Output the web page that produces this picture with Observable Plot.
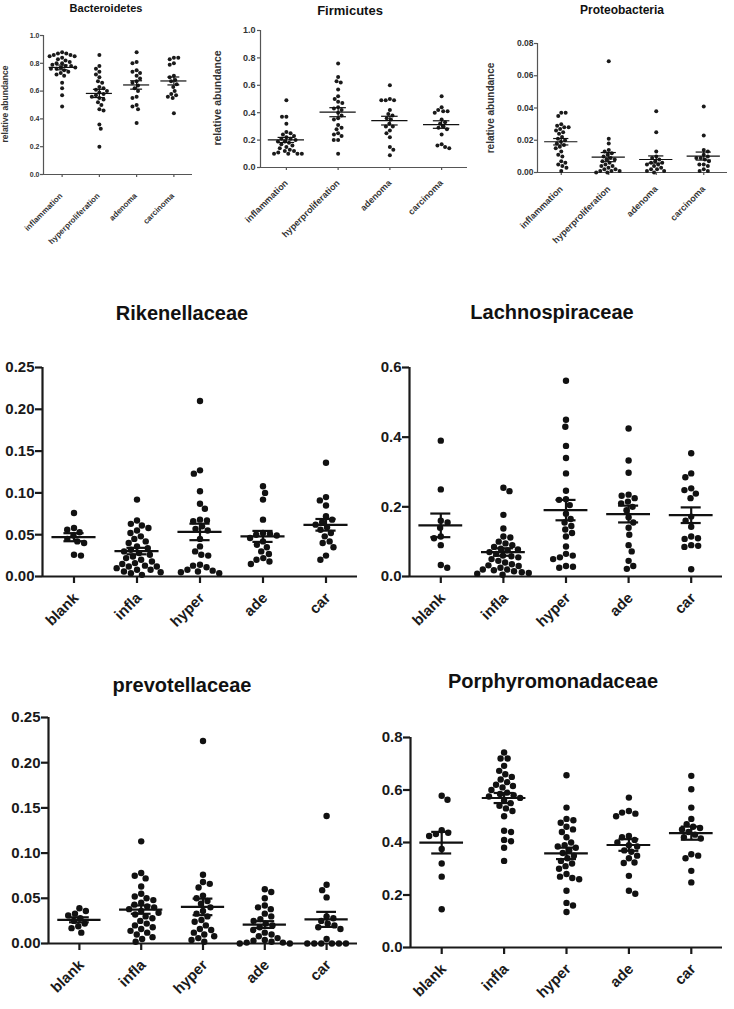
<!DOCTYPE html>
<html><head><meta charset="utf-8">
<script src="https://cdn.jsdelivr.net/npm/d3@7"></script>
<script src="https://cdn.jsdelivr.net/npm/@observablehq/plot@0.6"></script>
<style>
body{margin:0;background:#fff;}
#page{position:relative;width:734px;height:1009px;overflow:hidden;background:#fff;font-family:"Liberation Sans",Arial,sans-serif;}
.title{position:absolute;font-weight:bold;white-space:nowrap;transform:translateX(-50%);color:#111;}
.ylab{position:absolute;font-weight:bold;white-space:nowrap;transform:translate(-50%,-50%) rotate(-90deg);color:#333;}
.panel{position:absolute;}
.panel svg{overflow:visible;background:transparent;}
</style></head><body><div id="page"></div><script>
// ---------- data ----------
const topGroups = ["inflammation","hyperproliferation","adenoma","carcinoma"];
const bottomGroups = ["blank","infla","hyper","ade","car"];

const ticksUnit = [0,0.2,0.4,0.6,0.8,1.0];
const ticksProteo = [0,0.02,0.04,0.06,0.08];
const ticksSmall = [0,0.05,0.10,0.15,0.20,0.25];
const ticksLachno = [0,0.2,0.4,0.6];
const ticksPorph = [0,0.2,0.4,0.6,0.8];

const bacteroidetes = [
 [0.88,0.87,0.87,0.86,0.86,0.85,0.85,0.84,0.83,0.82,0.81,0.80,0.80,0.79,0.78,0.78,0.77,0.77,0.76,0.76,0.75,0.74,0.73,0.72,0.71,0.66,0.62,0.57,0.49],
 [0.86,0.78,0.76,0.74,0.72,0.70,0.67,0.66,0.63,0.62,0.61,0.60,0.59,0.58,0.57,0.56,0.55,0.54,0.52,0.50,0.47,0.46,0.36,0.33,0.20],
 [0.88,0.81,0.80,0.75,0.74,0.73,0.71,0.69,0.67,0.66,0.64,0.62,0.60,0.56,0.55,0.50,0.49,0.47,0.37],
 [0.84,0.84,0.83,0.80,0.79,0.71,0.70,0.68,0.67,0.65,0.63,0.60,0.58,0.57,0.56,0.55,0.44]
];
const firmicutes = [
 [0.49,0.37,0.37,0.32,0.26,0.25,0.24,0.23,0.22,0.21,0.21,0.20,0.19,0.19,0.18,0.17,0.16,0.15,0.14,0.13,0.12,0.12,0.11,0.10,0.10,0.10,0.10],
 [0.76,0.66,0.63,0.62,0.57,0.52,0.50,0.48,0.47,0.44,0.43,0.42,0.40,0.38,0.36,0.35,0.31,0.29,0.28,0.25,0.24,0.23,0.20,0.20,0.10],
 [0.60,0.50,0.49,0.49,0.49,0.42,0.39,0.38,0.36,0.35,0.32,0.30,0.30,0.27,0.25,0.22,0.15,0.13,0.09],
 [0.52,0.44,0.42,0.41,0.41,0.40,0.35,0.33,0.32,0.30,0.29,0.28,0.24,0.17,0.16,0.15,0.14]
];
const proteobacteria = [
 [0.037,0.037,0.035,0.030,0.029,0.028,0.028,0.027,0.026,0.025,0.024,0.022,0.021,0.020,0.019,0.018,0.017,0.016,0.015,0.013,0.011,0.010,0.007,0.006,0.005,0.004,0.003,0.001],
 [0.069,0.021,0.018,0.014,0.013,0.012,0.011,0.010,0.009,0.008,0.008,0.007,0.006,0.005,0.004,0.004,0.003,0.002,0.002,0.001,0.001,0.001,0.000,0.000],
 [0.038,0.025,0.013,0.010,0.009,0.008,0.007,0.006,0.006,0.005,0.005,0.004,0.003,0.002,0.002,0.001,0.001,0.000],
 [0.041,0.023,0.014,0.013,0.011,0.010,0.009,0.009,0.008,0.007,0.005,0.005,0.004,0.002,0.001,0.001]
];
const rikenellaceae = [
 [0.076,0.058,0.056,0.053,0.049,0.045,0.042,0.040,0.026,0.025],
 [0.092,0.067,0.063,0.061,0.058,0.055,0.052,0.048,0.045,0.042,0.040,0.036,0.034,0.032,0.030,0.028,0.026,0.024,0.022,0.020,0.018,0.016,0.015,0.013,0.012,0.012,0.010,0.008,0.008,0.006,0.005,0.004,0.002],
 [0.210,0.127,0.123,0.102,0.087,0.081,0.068,0.067,0.066,0.060,0.057,0.055,0.045,0.036,0.030,0.026,0.025,0.014,0.013,0.011,0.008,0.007,0.006,0.005,0.004],
 [0.108,0.100,0.092,0.068,0.052,0.051,0.050,0.049,0.046,0.042,0.038,0.035,0.030,0.027,0.022,0.020,0.018,0.015],
 [0.136,0.095,0.091,0.085,0.072,0.068,0.065,0.062,0.059,0.056,0.052,0.048,0.042,0.040,0.035,0.025,0.020]
];
const lachnospiraceae = [
 [0.39,0.25,0.16,0.155,0.14,0.115,0.11,0.09,0.033,0.025],
 [0.255,0.245,0.177,0.138,0.115,0.112,0.10,0.095,0.09,0.085,0.08,0.078,0.075,0.07,0.065,0.06,0.058,0.055,0.05,0.045,0.04,0.035,0.032,0.03,0.025,0.02,0.02,0.018,0.015,0.012,0.01,0.008,0.005],
 [0.562,0.45,0.43,0.375,0.34,0.296,0.246,0.222,0.22,0.205,0.18,0.165,0.155,0.145,0.135,0.125,0.115,0.086,0.065,0.06,0.055,0.05,0.03,0.028,0.025],
 [0.425,0.333,0.298,0.235,0.232,0.225,0.215,0.21,0.2,0.19,0.17,0.155,0.14,0.12,0.09,0.072,0.045,0.03,0.022],
 [0.354,0.296,0.285,0.253,0.248,0.238,0.225,0.172,0.16,0.143,0.115,0.11,0.108,0.09,0.088,0.085,0.021]
];
const prevotellaceae = [
 [0.039,0.036,0.033,0.031,0.028,0.025,0.022,0.019,0.017,0.012],
 [0.113,0.078,0.075,0.072,0.063,0.055,0.052,0.050,0.048,0.045,0.043,0.041,0.040,0.038,0.036,0.034,0.032,0.030,0.028,0.025,0.022,0.020,0.018,0.016,0.014,0.012,0.010,0.007,0.005,0.002],
 [0.224,0.076,0.068,0.066,0.062,0.053,0.050,0.047,0.044,0.040,0.036,0.033,0.030,0.026,0.024,0.020,0.016,0.015,0.012,0.010,0.008,0.006,0.004,0.002],
 [0.060,0.057,0.050,0.042,0.040,0.038,0.033,0.030,0.027,0.025,0.022,0.020,0.018,0.015,0.012,0.010,0.008,0.006,0.004,0.003,0.002,0.001,0.001,0.000,0.000],
 [0.141,0.065,0.059,0.051,0.030,0.028,0.025,0.022,0.020,0.018,0.016,0.005,0.000,0.000,0.000,0.000,0.000,0.000]
];
const porphyromonadaceae = [
 [0.578,0.563,0.447,0.437,0.432,0.425,0.375,0.32,0.27,0.146],
 [0.743,0.72,0.72,0.692,0.673,0.66,0.65,0.64,0.63,0.62,0.615,0.61,0.60,0.59,0.585,0.58,0.575,0.57,0.56,0.55,0.54,0.53,0.52,0.50,0.445,0.44,0.41,0.405,0.38,0.33],
 [0.656,0.533,0.49,0.485,0.475,0.46,0.45,0.44,0.42,0.40,0.39,0.385,0.38,0.37,0.36,0.35,0.34,0.33,0.32,0.31,0.30,0.28,0.27,0.265,0.26,0.216,0.17,0.16,0.135],
 [0.571,0.52,0.514,0.51,0.50,0.425,0.42,0.41,0.40,0.39,0.385,0.37,0.365,0.35,0.34,0.324,0.322,0.273,0.216,0.205],
 [0.654,0.603,0.533,0.49,0.47,0.46,0.455,0.45,0.44,0.43,0.42,0.415,0.355,0.35,0.34,0.292,0.248]
];

// ---------- layout helpers ----------
const page = document.getElementById("page");

function swarm(ys, D) {
  const order = d3.range(ys.length).sort((a, b) => ys[a] - ys[b]);
  const placed = [], xs = new Array(ys.length);
  let flip = 1;
  for (const k of order) {
    const y = ys[k];
    const near = placed.filter(p => Math.abs(p.y - y) < D);
    const cands = [0];
    for (const p of near) {
      const dx = Math.sqrt(D * D - (p.y - y) ** 2);
      cands.push(p.x + dx, p.x - dx);
    }
    cands.sort((a, b) => (Math.abs(a) - Math.abs(b)) || (flip * (a - b)));
    let best = 0;
    for (const c of cands) {
      if (near.every(p => (p.x - c) ** 2 + (p.y - y) ** 2 >= D * D - 1e-6)) { best = c; break; }
    }
    flip = -flip;
    xs[k] = best;
    placed.push({x: best, y});
  }
  return xs;
}

function addText(cls, text, css) {
  const d = document.createElement("div");
  d.className = cls;
  d.textContent = text;
  Object.assign(d.style, css);
  page.appendChild(d);
}

function panel(o) {
  const n = o.names.length;
  const ymax = o.ticks[o.ticks.length - 1];
  const fw = o.x1 - o.x0, fh = o.y0 - o.yTop, step = fw / n;
  const pts = [];
  o.series.forEach((vals, i) => {
    const offs = swarm(vals.map(v => (1 - v / ymax) * fh), 2 * o.r + o.gap);
    vals.forEach((v, k) => pts.push({x: i + offs[k] / step, y: v}));
  });
  const stats = o.series.map((vals, i) => {
    const m = d3.mean(vals), se = d3.deviation(vals) / Math.sqrt(vals.length);
    return {i, m, lo: m - se, hi: m + se};
  });
  const lw = o.lw;
  const svg = Plot.plot({
    width: o.width, height: o.height,
    marginLeft: o.x0 - o.left, marginRight: o.left + o.width - o.x1,
    marginTop: o.yTop - o.top, marginBottom: o.top + o.height - o.y0,
    x: {domain: [-0.5, n - 0.5]},
    y: {domain: [0, ymax]},
    style: {fontFamily: '"Liberation Sans", Arial, sans-serif', fontWeight: "bold", color: o.textColor, background: "transparent", overflow: "visible"},
    marks: [
      Plot.axisY({ticks: o.ticks, tickFormat: d3.format(o.fmt), tickSize: o.tickSize, tickPadding: o.yPad, strokeWidth: lw, fontSize: o.yFont, stroke: o.axisColor, fill: o.textColor}),
      Plot.axisX({ticks: d3.range(n), tickFormat: () => "", tickSize: o.tickSize, strokeWidth: lw, stroke: o.axisColor}),
      Plot.text(d3.range(n), {x: d => d, y: () => 0, text: d => o.names[d], rotate: -45, textAnchor: "end", lineAnchor: "middle",
        dx: o.xdx, dy: o.xdy, fontSize: o.xFont, fontWeight: "bold", fill: o.textColor}),
      Plot.ruleX([-0.5], {stroke: o.axisColor, strokeWidth: lw}),
      Plot.ruleY([0], {stroke: o.axisColor, strokeWidth: lw}),
      Plot.dot(pts, {x: "x", y: "y", r: o.r, fill: o.dotColor, stroke: "none"}),
      Plot.ruleY(stats, {y: "m", x1: d => d.i - 0.35, x2: d => d.i + 0.35, stroke: "#111", strokeWidth: lw}),
      Plot.ruleY(stats, {y: "hi", x1: d => d.i - 0.16, x2: d => d.i + 0.16, stroke: "#111", strokeWidth: lw}),
      Plot.ruleY(stats, {y: "lo", x1: d => d.i - 0.16, x2: d => d.i + 0.16, stroke: "#111", strokeWidth: lw}),
      Plot.ruleX(stats, {x: "i", y1: "lo", y2: "hi", stroke: "#111", strokeWidth: lw})
    ]
  });
  const div = document.createElement("div");
  div.className = "panel";
  Object.assign(div.style, {left: o.left + "px", top: o.top + "px", width: o.width + "px", height: o.height + "px"});
  div.appendChild(svg);
  page.appendChild(div);
  addText("title", o.title, {left: o.tx + "px", top: o.ty + "px", fontSize: o.tf + "px", lineHeight: o.tf + "px"});
  if (o.ylabel) addText("ylab", o.ylabel, {left: o.lx + "px", top: o.ly + "px", fontSize: o.lf + "px", lineHeight: o.lf + "px"});
}

const topStyle = {r: 2, gap: 0.4, lw: 1.2, tickSize: 3, axisColor: "#555", textColor: "#333", dotColor: "#1a1a1a"};
const botStyle = {r: 3.2, gap: 0.6, lw: 2.2, tickSize: 7, axisColor: "#1a1a1a", textColor: "#1a1a1a", dotColor: "#111",
  yPad: 1, xdx: 2, xdy: 19, yFont: 15, xFont: 15, fmt: ".2f", tf: 20};

panel({...topStyle, title: "Bacteroidetes", names: topGroups, series: bacteroidetes, ticks: ticksUnit, fmt: ".1f",
  left: 0, top: 20, width: 215, height: 230, x0: 43, x1: 192, yTop: 35, y0: 174,
  yPad: 1, xdx: -1, xdy: 20, yFont: 7, xFont: 8,
  tx: 106, ty: 2.5, tf: 11, ylabel: "relative abundance", lx: 5, ly: 104, lf: 8.5});
panel({...topStyle, title: "Firmicutes", names: topGroups, series: firmicutes, ticks: ticksUnit, fmt: ".1f",
  left: 228, top: 20, width: 250, height: 230, x0: 260, x1: 467, yTop: 30, y0: 167,
  yPad: 2, xdx: 0, xdy: 14, yFont: 9, xFont: 9,
  tx: 350, ty: 4, tf: 13, ylabel: "relative abundance", lx: 217, ly: 98, lf: 10.5});
panel({...topStyle, title: "Proteobacteria", names: topGroups, series: proteobacteria, ticks: ticksProteo, fmt: ".2f",
  left: 500, top: 20, width: 234, height: 230, x0: 537, x1: 727, yTop: 43, y0: 172,
  yPad: 1, xdx: 0, xdy: 15, yFont: 8.5, xFont: 9,
  tx: 622, ty: 4, tf: 12, ylabel: "relative abundance", lx: 491, ly: 108, lf: 10});

panel({...botStyle, title: "Rikenellaceae", names: bottomGroups, series: rikenellaceae, ticks: ticksSmall,
  left: 0, top: 340, width: 367, height: 300, x0: 42, x1: 357, yTop: 367, y0: 576, tx: 182, ty: 303});
panel({...botStyle, title: "Lachnospiraceae", names: bottomGroups, series: lachnospiraceae, ticks: ticksLachno, fmt: ".1f",
  left: 367, top: 340, width: 367, height: 300, x0: 409, x1: 722, yTop: 367, y0: 576, tx: 552, ty: 302});
panel({...botStyle, title: "prevotellaceae", names: bottomGroups, series: prevotellaceae, ticks: ticksSmall,
  left: 0, top: 700, width: 367, height: 309, x0: 48, x1: 357, yTop: 717, y0: 943, tx: 182, ty: 675});
panel({...botStyle, title: "Porphyromonadaceae", names: bottomGroups, series: porphyromonadaceae, ticks: ticksPorph, fmt: ".1f",
  left: 367, top: 700, width: 367, height: 309, x0: 410, x1: 722, yTop: 737, y0: 947, tx: 553, ty: 671});
</script></body></html>
